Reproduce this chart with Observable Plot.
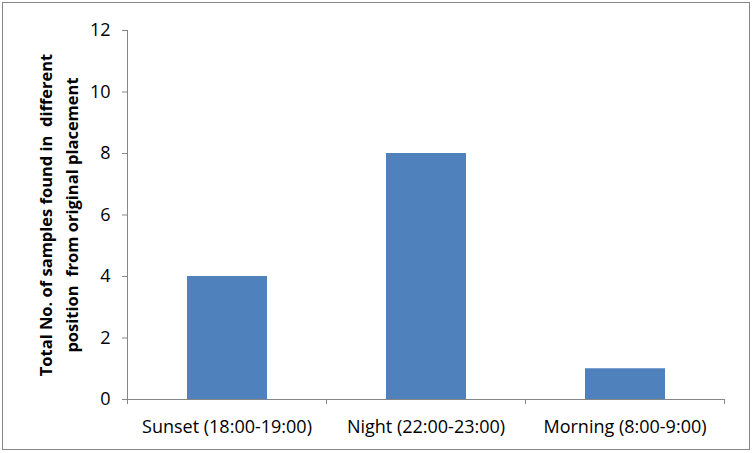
<!DOCTYPE html>
<html>
<head>
<meta charset="utf-8">
<script src="https://cdn.jsdelivr.net/npm/d3@7"></script>
<script src="https://cdn.jsdelivr.net/npm/@observablehq/plot@0.6"></script>
<style>
  html, body { margin: 0; padding: 0; background: #fff; }
  #wrap { position: relative; width: 753px; height: 453px; }
  #border { position: absolute; left: 2px; top: 2px; width: 746px; height: 446px; border: 1px solid #868686; pointer-events: none; }
</style>
</head>
<body>
<div id="wrap"><div id="chart"></div><div id="border"></div></div>
<script>
const categories = ["Sunset (18:00-19:00)", "Night (22:00-23:00)", "Morning (8:00-9:00)"];
const values = [4, 8, 1];
const yTicks = [0, 2, 4, 6, 8, 10, 12];
const yTitleLines = ["Total No. of samples found in  different", "position  from original placement"];

const FONT = "'Open Sans', sans-serif";
const data = categories.map((c, i) => ({cat: c, i, value: values[i]}));
const boundaries = d3.range(categories.length + 1);

const plot = Plot.plot({
  width: 753,
  height: 453,
  marginLeft: 127,
  marginRight: 29,
  marginTop: 30,
  marginBottom: 54,
  style: {fontFamily: FONT, fontSize: "18px", color: "#000", background: "transparent"},
  x: {type: "linear", domain: [0, categories.length]},
  y: {domain: [0, 12]},
  marks: [
    Plot.rectY(data, {x1: d => d.i, x2: d => d.i + 1, y: "value", fill: "#4F81BD", insetLeft: 60, insetRight: 59}),
    Plot.ruleY([0], {stroke: "#868686"}),
    Plot.ruleX([0], {stroke: "#868686"}),
    Plot.axisY({ticks: yTicks, tickSize: 5, tickPadding: 12, stroke: "#868686", label: null, fill: "#000", fontSize: 18}),
    Plot.axisX({ticks: boundaries, tickSize: 5, tickFormat: () => "", stroke: "#868686", label: null}),
    Plot.axisX({ticks: categories.map((c, i) => i + 0.5), tickSize: 0, tickPadding: 21, tickFormat: (d) => categories[Math.floor(d)], label: null, fill: "#000", fontSize: 18})
  ]
});
document.getElementById("chart").appendChild(plot);

// Y axis title (two lines, bold, rotated)
const svg = d3.select(plot);
const t = svg.append("text")
  .attr("transform", "translate(59,215) rotate(-90)")
  .attr("text-anchor", "middle")
  .attr("font-family", FONT)
  .attr("font-weight", "bold")
  .attr("font-size", "16.5px")
  .attr("fill", "#000");
yTitleLines.forEach((line, k) => {
  t.append("tspan").attr("x", 0).attr("y", (k - 0.5) * 26).attr("dy", "0.35em").style("white-space", "pre").text(line);
});
</script>
</body>
</html>
